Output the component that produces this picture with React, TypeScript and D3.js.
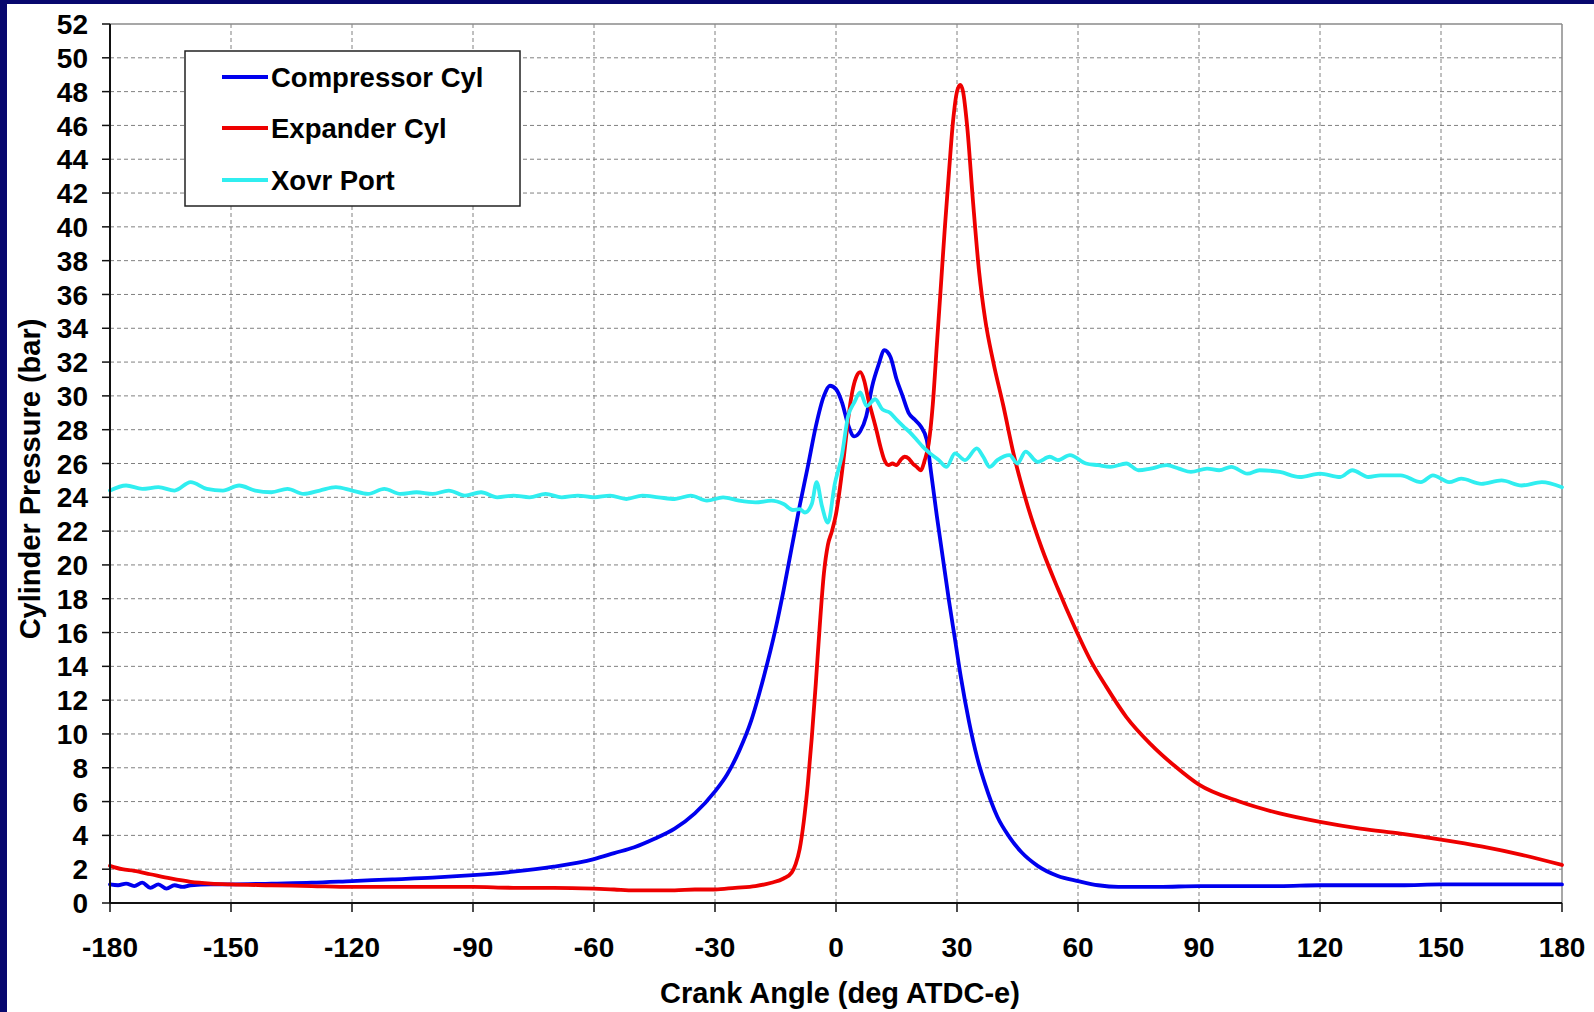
import React from "react";
import * as d3 from "d3";

const W = 1594;
const H = 1012;

const xTicks = [-180, -150, -120, -90, -60, -30, 0, 30, 60, 90, 120, 150, 180];
const yTicks = [0, 2, 4, 6, 8, 10, 12, 14, 16, 18, 20, 22, 24, 26, 28, 30, 32, 34, 36, 38, 40, 42, 44, 46, 48, 50, 52];

const seriesNames = ["Compressor Cyl", "Expander Cyl", "Xovr Port"];
const seriesColors = ["#0000ee", "#ee0000", "#30eef0"];

const compAngle = [-180, -178, -176, -174, -172, -170, -168, -166, -164, -162, -160, -155, -150, -140, -130, -120, -110, -100, -90, -80, -70, -60, -55, -50, -45, -40, -35, -30, -27, -24, -21, -18, -15, -13, -11, -9, -7, -5, -3, -1.5, 0, 1.5, 3, 4.5, 6, 7.5, 9, 10.5, 12, 13.5, 15, 16.5, 18, 19.5, 21, 22.5, 23.5, 25, 26.5, 28, 29.5, 31, 33, 35, 37, 40, 43, 46, 50, 55, 60, 65, 70, 80, 90, 100, 110, 120, 130, 140, 150, 160, 170, 180];
const compP = [1.1, 1.05, 1.15, 1.0, 1.2, 0.9, 1.1, 0.85, 1.05, 0.95, 1.05, 1.1, 1.1, 1.15, 1.2, 1.3, 1.4, 1.5, 1.65, 1.85, 2.15, 2.6, 2.95, 3.3, 3.8, 4.4, 5.3, 6.6, 7.6, 9.0, 10.8, 13.3, 16.2, 18.5, 21.0, 23.5, 25.8, 28.2, 30.0, 30.6, 30.4, 29.6, 28.3, 27.6, 27.9, 28.8, 30.6, 31.8, 32.7, 32.3, 31.0, 30.0, 29.0, 28.6, 28.2, 27.4, 25.6, 22.9, 20.4, 17.9, 15.6, 13.3, 10.7, 8.6, 7.0, 5.1, 3.9, 3.0, 2.2, 1.6, 1.3, 1.05, 0.95, 0.95, 1.0, 1.0, 1.0, 1.05, 1.05, 1.05, 1.1, 1.1, 1.1, 1.1];

const expAngle = [-180, -177, -174, -170, -165, -160, -155, -150, -140, -130, -120, -110, -100, -90, -80, -70, -60, -55, -50, -45, -40, -35, -30, -25, -20, -16, -13, -11, -10, -9, -8, -7, -6, -5, -4, -3, -2, -1, 0, 1, 2, 3, 4, 5, 6, 7, 8, 9, 10, 11, 12, 13, 14, 15, 16, 17, 18, 19, 20, 21, 22, 23, 24, 25, 26, 27, 28, 29, 30, 30.8, 31.5, 32.5, 34, 35.5, 37, 39, 41.5, 44, 47.5, 51, 55, 59, 63, 67, 72, 78, 84, 90, 100, 110, 120, 130, 140, 150, 160, 170, 180];
const expP = [2.2, 2.0, 1.9, 1.7, 1.45, 1.25, 1.15, 1.1, 1.05, 1.0, 0.95, 0.95, 0.95, 0.95, 0.9, 0.9, 0.85, 0.8, 0.75, 0.75, 0.75, 0.8, 0.8, 0.9, 1.0, 1.2, 1.45, 1.8, 2.3, 3.2, 4.8, 7.0, 9.8, 13.0, 16.5, 19.5, 21.2, 22.0, 23.0, 24.6, 26.5, 28.6, 30.2, 31.1, 31.4, 30.9, 29.8, 28.9, 28.0, 27.0, 26.2, 25.9, 26.0, 25.9, 26.2, 26.4, 26.3, 26.0, 25.8, 25.6, 26.2, 27.2, 29.5, 33.0, 36.5, 40.0, 43.2, 46.2, 48.0, 48.4, 48.0, 46.0, 41.4, 37.3, 34.5, 32.0, 29.4, 26.6, 23.5, 21.0, 18.6, 16.4, 14.4, 12.8, 11.0, 9.4, 8.1, 7.0, 6.0, 5.3, 4.8, 4.4, 4.1, 3.75, 3.35, 2.85, 2.25];

const xovrAngle = [-180, -176, -172, -168, -164, -160, -156, -152, -148, -144, -140, -136, -132, -128, -124, -120, -116, -112, -108, -104, -100, -96, -92, -88, -84, -80, -76, -72, -68, -64, -60, -56, -52, -48, -44, -40, -36, -32, -28, -24, -20, -16, -13, -10.7, -9, -7.7, -6, -4.8, -3.5, -2, -0.3, 1.4, 3, 4.5, 6, 7.6, 9.7, 11.5, 13.4, 15, 16.7, 18.5, 20, 21.5, 23.3, 25.5, 27.4, 29.5, 32, 34.9, 36.5, 38.1, 40, 43, 45, 47, 50, 53, 55, 58, 62, 65, 68, 72, 75, 78, 82, 85, 88, 92, 95, 98, 102, 105, 110, 115, 120, 125, 128, 132, 135, 140, 145, 148, 152, 155, 160, 165, 170, 175, 180];
const xovrP = [24.4, 24.7, 24.5, 24.6, 24.4, 24.9, 24.5, 24.4, 24.7, 24.4, 24.3, 24.5, 24.2, 24.4, 24.6, 24.4, 24.2, 24.5, 24.2, 24.3, 24.2, 24.4, 24.1, 24.3, 24.0, 24.1, 24.0, 24.2, 24.0, 24.1, 24.0, 24.1, 23.9, 24.1, 24.0, 23.9, 24.1, 23.8, 24.0, 23.8, 23.7, 23.8, 23.6, 23.25, 23.3, 23.1, 23.6, 24.9, 23.5, 22.5, 24.8, 26.4, 28.8, 29.6, 30.2, 29.4, 29.8, 29.2, 29.0, 28.6, 28.2, 27.8, 27.4, 27.0, 26.6, 26.2, 25.8, 26.6, 26.2, 26.9, 26.4, 25.8, 26.2, 26.5, 26.0, 26.7, 26.1, 26.4, 26.2, 26.5, 26.0, 25.9, 25.8, 26.0, 25.6, 25.7, 25.9, 25.7, 25.5, 25.7, 25.6, 25.8, 25.4, 25.6, 25.5, 25.2, 25.4, 25.2, 25.6, 25.2, 25.3, 25.3, 24.9, 25.3, 24.9, 25.1, 24.8, 25.0, 24.7, 24.9, 24.6];

const series = [
  { angle: compAngle, p: compP },
  { angle: expAngle, p: expP },
  { angle: xovrAngle, p: xovrP },
];

const M = { left: 110, right: 1562, top: 24, bottom: 903 };

export default function App() {
  const x = d3.scaleLinear().domain([-180, 180]).range([M.left, M.right]);
  const y = d3.scaleLinear().domain([0, 52]).range([M.bottom, M.top]);
  const line = d3
    .line<[number, number]>()
    .x((d) => x(d[0]))
    .y((d) => y(d[1]))
    .curve(d3.curveMonotoneX);

  const font = "'Liberation Sans', Arial, sans-serif";
  const legendRows = [77, 128, 180];

  return (
    <svg
      width={W}
      height={H}
      style={{ position: "absolute", left: 0, top: 0, background: "#ffffff" }}
      fontFamily={font}
    >
      <rect x={0} y={0} width={W} height={H} fill="#ffffff" />
      <rect x={0} y={0} width={W} height={4} fill="#07076e" />
      <rect x={0} y={0} width={7} height={H} fill="#07076e" />

      {/* grid */}
      {yTicks
        .filter((t) => t > 0 && t < 52)
        .map((t) => (
          <line key={"gy" + t} x1={M.left} x2={M.right} y1={y(t)} y2={y(t)} stroke="#808080" strokeWidth={1} strokeDasharray="4,3" />
        ))}
      {xTicks
        .filter((t) => t > -180 && t < 180)
        .map((t) => (
          <line key={"gx" + t} x1={x(t)} x2={x(t)} y1={M.top} y2={M.bottom} stroke="#808080" strokeWidth={1} strokeDasharray="4,3" />
        ))}
      {/* top/right border */}
      <line x1={M.left} x2={M.right} y1={M.top} y2={M.top} stroke="#8a8a8a" strokeWidth={1.5} />
      <line x1={M.right} x2={M.right} y1={M.top} y2={M.bottom} stroke="#8a8a8a" strokeWidth={1.5} />

      {/* series */}
      {series.map((s, i) => (
        <path
          key={"s" + i}
          d={line(s.angle.map((a, j) => [a, s.p[j]] as [number, number])) || ""}
          fill="none"
          stroke={seriesColors[i]}
          strokeWidth={3.8}
          strokeLinejoin="round"
          strokeLinecap="round"
        />
      ))}

      {/* axes */}
      <line x1={M.left} x2={M.left} y1={M.top} y2={M.bottom} stroke="#111" strokeWidth={2} />
      <line x1={M.left} x2={M.right} y1={M.bottom} y2={M.bottom} stroke="#111" strokeWidth={2} />
      {yTicks.map((t) => (
        <g key={"yt" + t}>
          <line x1={M.left - 8} x2={M.left} y1={y(t)} y2={y(t)} stroke="#111" strokeWidth={1.5} />
          <text x={88} y={y(t)} dy="0.36em" textAnchor="end" fontSize={28} fontWeight="bold" fill="#000">
            {t}
          </text>
        </g>
      ))}
      {xTicks.map((t) => (
        <g key={"xt" + t}>
          <line x1={x(t)} x2={x(t)} y1={M.bottom} y2={M.bottom + 9} stroke="#111" strokeWidth={1.5} />
          <text x={x(t)} y={957} textAnchor="middle" fontSize={28} fontWeight="bold" fill="#000">
            {t}
          </text>
        </g>
      ))}

      <text x={(M.left + M.right) / 2 + 4} y={1003} textAnchor="middle" fontSize={29} fontWeight="bold" fill="#000">
        Crank Angle (deg ATDC-e)
      </text>
      <text transform={`translate(40, 479) rotate(-90)`} textAnchor="middle" fontSize={29} fontWeight="bold" fill="#000">
        Cylinder Pressure (bar)
      </text>

      {/* legend */}
      <rect x={185} y={51} width={335} height={155} fill="#ffffff" stroke="#222" strokeWidth={1.5} />
      {seriesNames.map((n, i) => (
        <g key={"lg" + i}>
          <line x1={222} x2={268} y1={legendRows[i]} y2={legendRows[i]} stroke={seriesColors[i]} strokeWidth={4} />
          <text x={271} y={legendRows[i]} dy="0.36em" fontSize={27.5} fontWeight="bold" fill="#000">
            {n}
          </text>
        </g>
      ))}
    </svg>
  );
}
